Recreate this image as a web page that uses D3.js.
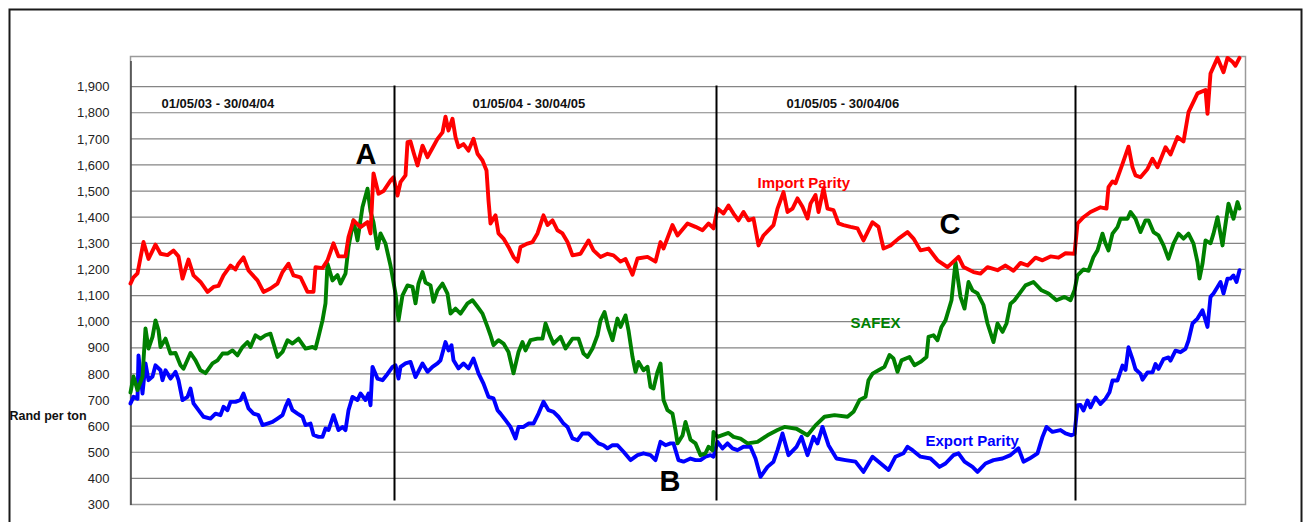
<!DOCTYPE html>
<html>
<head>
<meta charset="utf-8">
<script src="https://cdn.jsdelivr.net/npm/d3@7"></script>
<style>
  body { margin: 0; background: #fff; }
  svg { display: block; font-family: Arial, "Liberation Sans", sans-serif; }
  .tick text { font-size: 13px; fill: #222; }
  .period { font-size: 13px; font-weight: bold; fill: #111; }
  .letter { font-size: 29px; font-weight: bold; fill: #000; }
  .series-label { font-size: 15px; font-weight: bold; }
</style>
</head>
<body>
<script>
// Chart data (x = observation number on the category axis, y = Rand per ton)
var importParity = [[0,1146],[3,1170],[7,1185],[13,1305],[18,1240],[25,1295],[30,1260],[37,1255],[43,1272],[48,1250],
  [52,1165],[58,1238],[63,1177],[70,1152],[77,1114],[83,1133],[88,1137],[93,1177],[100,1215],[105,1200],[108,1222],
  [113,1246],[118,1196],[127,1158],[133,1114],[140,1127],[147,1146],[152,1190],[158,1222],[163,1177],[170,1170],
  [177,1114],[183,1114],[185,1209],[192,1205],[197,1235],[203,1300],[208,1250],[215,1250],[218,1324],[223,1388],
  [230,1362],[237,1381],[240,1338],[243,1568],[248,1490],[253,1500],[260,1540],[263,1553],[267,1483],[270,1534],
  [275,1560],[277,1687],[280,1690],[283,1649],[287,1598],[292,1674],[297,1630],[302,1665],[307,1700],[312,1725],
  [315,1785],[318,1732],[322,1777],[325,1707],[328,1668],[333,1680],[338,1655],[343,1700],[347,1643],[352,1617],
  [356,1579],[358,1464],[360,1376],[365,1407],[368,1338],[373,1318],[378,1286],[383,1248],[387,1230],[390,1286],
  [397,1299],[402,1305],[407,1338],[413,1407],[417,1370],[422,1388],[427,1350],[432,1338],[437,1305],[442,1254],
  [450,1260],[458,1311],[463,1273],[470,1248],[477,1260],[483,1254],[490,1230],[495,1240],[502,1180],[507,1242],
  [517,1248],[525,1230],[530,1305],[533,1280],[542,1370],[547,1330],[557,1376],[565,1363],[572,1350],[578,1376],
  [583,1357],[587,1433],[593,1414],[598,1445],[603,1414],[608,1388],[613,1420],[618,1388],[623,1395],[628,1292],
  [633,1330],[643,1370],[647,1433],[653,1496],[657,1420],[662,1433],[667,1472],[672,1440],[677,1395],[680,1452],
  [685,1485],[688,1420],[693,1510],[697,1433],[703,1427],[708,1376],[713,1370],[720,1363],[727,1357],[733,1311],
  [742,1381],[748,1363],[753,1280],[760,1292],[768,1318],[777,1343],[783,1318],[790,1273],[798,1280],[807,1235],
  [817,1209],[828,1248],[833,1209],[843,1190],[850,1184],[857,1209],[867,1197],[875,1215],[883,1195],[890,1225],
  [897,1215],[905,1245],[912,1235],[920,1250],[928,1245],[935,1262],[944,1260],[947,1376],[953,1400],[960,1420],
  [970,1438],[976,1433],[978,1515],[982,1537],[985,1530],[992,1604],[998,1670],[1002,1591],[1005,1560],[1010,1553],
  [1017,1585],[1022,1624],[1027,1591],[1035,1668],[1040,1640],[1047,1707],[1053,1690],[1058,1802],[1067,1874],
  [1075,1887],[1077,1796],[1080,1950],[1087,2010],[1093,1955],[1097,2010],[1102,1995],[1105,1980],[1109,2010]];

var safex = [[0,729],[3,790],[7,738],[12,790],[15,974],[18,897],[22,942],[25,1005],[28,967],[30,903],[35,935],
  [40,878],[45,880],[50,833],[53,820],[60,880],[65,852],[70,814],[75,803],[82,840],[87,852],[92,878],[97,878],
  [102,890],[107,871],[112,903],[117,922],[120,903],[125,948],[130,935],[135,948],[140,954],[143,916],[147,865],
  [152,884],[157,929],[162,916],[168,935],[175,897],[182,903],[185,897],[188,942],[192,1005],[195,1070],[197,1222],
  [202,1158],[207,1178],[210,1146],[215,1184],[218,1286],[223,1388],[227,1311],[232,1439],[237,1509],[240,1423],
  [243,1381],[247,1280],[250,1338],[255,1299],[260,1215],[265,1108],[268,1005],[272,1101],[277,1139],[282,1133],
  [285,1070],[288,1146],[292,1190],[295,1150],[300,1139],[303,1076],[307,1120],[312,1146],[317,1107],[320,1031],
  [325,1050],[330,1031],[337,1070],[342,1082],[347,1057],[352,1031],[357,980],[360,948],[363,910],[368,929],
  [373,916],[378,884],[383,802],[388,884],[392,922],[395,890],[400,929],[407,935],[412,935],[415,993],[420,942],
  [423,916],[430,942],[435,897],[442,935],[448,935],[453,878],[457,865],[462,897],[467,948],[470,1005],[474,1037],
  [478,974],[482,929],[487,1012],[490,980],[495,1024],[498,967],[502,865],[505,808],[508,846],[513,814],[517,827],
  [520,750],[523,744],[527,808],[530,840],[533,700],[537,661],[542,648],[545,585],[547,534],[552,564],[555,616],
  [560,548],[565,534],[570,489],[575,496],[578,521],[582,508],[583,578],[587,559],[598,574],[603,559],[610,552],
  [617,534],[627,540],[637,565],[647,585],[654,597],[666,590],[677,565],[685,603],[694,636],[704,642],[717,636],
  [723,655],[729,700],[735,712],[738,776],[742,801],[748,814],[754,827],[759,872],[763,859],[767,808],[771,852],
  [779,865],[784,833],[790,846],[796,865],[798,942],[803,948],[807,929],[811,980],[815,1005],[821,1082],[825,1228],
  [830,1095],[834,1050],[838,1152],[842,1120],[847,1108],[853,1063],[857,993],[863,922],[867,993],[872,961],
  [876,993],[880,1069],[884,1082],[895,1139],[903,1152],[911,1120],[918,1108],[926,1082],[934,1095],[940,1082],
  [944,1120],[947,1177],[953,1200],[958,1195],[963,1248],[967,1273],[972,1337],[975,1299],[978,1273],[982,1337],
  [987,1362],[990,1394],[997,1394],[1000,1420],[1005,1394],[1010,1343],[1015,1388],[1018,1388],[1023,1343],
  [1028,1330],[1033,1292],[1038,1241],[1043,1299],[1048,1337],[1053,1318],[1058,1337],[1063,1299],[1067,1228],
  [1069,1165],[1072,1222],[1075,1311],[1080,1300],[1083,1337],[1087,1400],[1092,1292],[1093,1320],[1098,1452],
  [1103,1394],[1107,1458],[1109,1433]];

var exportParity = [[0,687],[3,712],[7,705],[8,871],[12,725],[15,840],[18,776],[22,790],[25,833],[30,814],[32,776],
  [35,814],[40,782],[45,808],[48,776],[52,700],[57,712],[60,744],[63,687],[68,661],[73,636],[80,629],[85,648],
  [90,642],[93,674],[97,661],[100,693],[105,693],[110,700],[113,725],[118,668],[123,648],[128,642],[132,604],
  [137,610],[142,616],[147,629],[152,642],[155,674],[158,700],[162,661],[167,648],[172,636],[175,604],[180,610],
  [183,566],[188,559],[192,559],[195,591],[198,585],[203,642],[208,585],[212,597],[215,585],[218,661],[222,712],
  [227,700],[230,725],[235,700],[238,725],[240,680],[242,827],[247,782],[252,776],[257,800],[262,827],[265,833],
  [268,782],[270,827],[275,840],[280,846],[285,788],[292,840],[297,808],[302,827],[307,840],[310,852],[315,922],
  [318,890],[321,910],[323,852],[328,821],[333,840],[338,821],[343,859],[348,802],[353,763],[358,712],[363,706],
  [367,661],[370,648],[375,623],[380,597],[385,553],[388,597],[393,597],[398,610],[403,610],[408,648],[413,693],
  [418,661],[423,655],[428,636],[433,610],[437,597],[442,553],[447,546],[452,572],[458,572],[463,553],[468,534],
  [473,527],[477,515],[482,527],[487,527],[493,502],[500,470],[507,489],[513,496],[520,489],[525,470],[530,540],
  [535,527],[540,534],[543,534],[548,470],[553,464],[560,476],[565,470],[570,470],[575,483],[580,489],[583,483],
  [587,540],[592,515],[597,534],[602,515],[607,508],[613,521],[620,521],[625,476],[630,406],[637,444],[643,464],
  [647,508],[652,572],[658,489],[666,521],[671,559],[677,489],[683,559],[687,534],[692,597],[698,527],[706,476],
  [715,470],[725,464],[733,425],[742,483],[752,451],[758,432],[765,483],[773,496],[777,521],[782,508],[790,483],
  [800,476],[809,444],[815,457],[823,489],[828,496],[834,464],[842,444],[847,425],[855,457],[863,470],[872,476],
  [880,489],[888,515],[893,464],[899,476],[907,496],[912,559],[916,597],[922,578],[930,585],[935,572],[941,565],
  [944,570],[947,680],[950,681],[953,660],[957,698],[960,672],[965,710],[970,685],[975,705],[979,730],[982,775],
  [987,775],[992,832],[995,815],[998,902],[1002,857],[1005,818],[1010,800],[1012,778],[1017,806],[1022,806],
  [1025,838],[1028,819],[1033,857],[1038,863],[1040,851],[1045,889],[1050,883],[1055,896],[1058,928],[1062,993],
  [1067,1012],[1072,1044],[1077,980],[1080,1095],[1083,1108],[1087,1133],[1090,1152],[1093,1108],[1097,1165],
  [1100,1165],[1103,1177],[1106,1152],[1109,1197]];

// Axis ticks and marketing-year boundaries
var yTicks = [300, 400, 500, 600, 700, 800, 900, 1000, 1100, 1200, 1300, 1400, 1500, 1600, 1700, 1800, 1900];
var periodStarts = [264, 586, 945];
var periodLabels = ['01/05/03 - 30/04/04', '01/05/04 - 30/04/05', '01/05/05 - 30/04/06'];
var periodLabelObs = [31, 342, 656];

var width = 1303, height = 522;
var plot = {left: 130.5, right: 1245.5, top: 56.5, bottom: 504.5};

var svg = d3.select('body').append('svg')
    .attr('width', width)
    .attr('height', height);

// Outer frame
svg.append('rect')
    .attr('x', 9.5).attr('y', 9.5)
    .attr('width', 1292).attr('height', 540)
    .attr('fill', 'none')
    .attr('stroke', '#1a1a1a')
    .attr('stroke-width', 2);

// Scales
var x = d3.scaleLinear().domain([0, 1110]).range([plot.left, plot.left + 1110]);
var y = d3.scaleLinear().domain([300, 2000]).range([plot.bottom, 60.5]);

// Gridlines
svg.append('g')
    .selectAll('line')
    .data(yTicks.slice(1))
    .enter()
    .append('line')
    .attr('x1', plot.left)
    .attr('x2', plot.right)
    .attr('y1', function(d) { return y(d); })
    .attr('y2', function(d) { return y(d); })
    .attr('stroke', '#858585')
    .attr('stroke-width', 1.2);

// Plot border
svg.append('rect')
    .attr('x', plot.left).attr('y', plot.top)
    .attr('width', plot.right - plot.left)
    .attr('height', plot.bottom - plot.top)
    .attr('fill', 'none')
    .attr('stroke', '#9a9a9a')
    .attr('stroke-width', 1.5);

// Y axis
var yAxis = d3.axisLeft(y)
    .tickValues(yTicks)
    .tickFormat(d3.format(','))
    .tickSize(0)
    .tickPadding(21);

svg.append('g')
    .attr('class', 'y axis')
    .attr('transform', 'translate(' + plot.left + ',0)')
    .call(yAxis)
    .call(function(g) { g.select('.domain').attr('stroke', '#444').attr('stroke-width', 1.5); });

// Axis label
svg.append('text')
    .attr('x', 9.5)
    .attr('y', 419.5)
    .style('font-size', '12.5px')
    .style('font-weight', 'bold')
    .attr('fill', '#111')
    .text('Rand per ton');

// Series lines
var line = d3.line()
    .x(function(d) { return x(d[0]); })
    .y(function(d) { return y(d[1]); });

var series = [
    {name: 'export', values: exportParity, color: '#0000ff'},
    {name: 'safex', values: safex, color: '#008000'},
    {name: 'import', values: importParity, color: '#ff0000'}
];

svg.selectAll('.series')
    .data(series)
    .enter()
    .append('path')
    .attr('class', 'series')
    .attr('d', function(d) { return line(d.values); })
    .attr('fill', 'none')
    .attr('stroke', function(d) { return d.color; })
    .attr('stroke-width', 3.9)
    .attr('stroke-linejoin', 'round')
    .attr('stroke-linecap', 'round');

// Period dividers
svg.selectAll('.divider')
    .data(periodStarts)
    .enter()
    .append('line')
    .attr('class', 'divider')
    .attr('x1', function(d) { return x(d); })
    .attr('x2', function(d) { return x(d); })
    .attr('y1', y(1900) - 1)
    .attr('y2', y(315))
    .attr('stroke', '#000')
    .attr('stroke-width', 2);

// Period labels
svg.selectAll('.period')
    .data(periodLabels)
    .enter()
    .append('text')
    .attr('class', 'period')
    .attr('x', function(d, i) { return x(periodLabelObs[i]); })
    .attr('y', y(1818))
    .text(function(d) { return d; });

// Point letters
var letters = [
    {text: 'A', obs: 225, value: 1604},
    {text: 'B', obs: 529, value: 353},
    {text: 'C', obs: 809, value: 1336}
];
svg.selectAll('.letter')
    .data(letters)
    .enter()
    .append('text')
    .attr('class', 'letter')
    .attr('x', function(d) { return x(d.obs); })
    .attr('y', function(d) { return y(d.value); })
    .text(function(d) { return d.text; });

// Series labels
var labels = [
    {text: 'Import Parity', obs: 627, value: 1510, color: '#ff0000'},
    {text: 'SAFEX', obs: 720, value: 974, color: '#008000'},
    {text: 'Export Parity', obs: 795, value: 525, color: '#0000ff'}
];
svg.selectAll('.series-label')
    .data(labels)
    .enter()
    .append('text')
    .attr('class', 'series-label')
    .attr('x', function(d) { return x(d.obs); })
    .attr('y', function(d) { return y(d.value); })
    .attr('fill', function(d) { return d.color; })
    .text(function(d) { return d.text; });
</script>
</body>
</html>
